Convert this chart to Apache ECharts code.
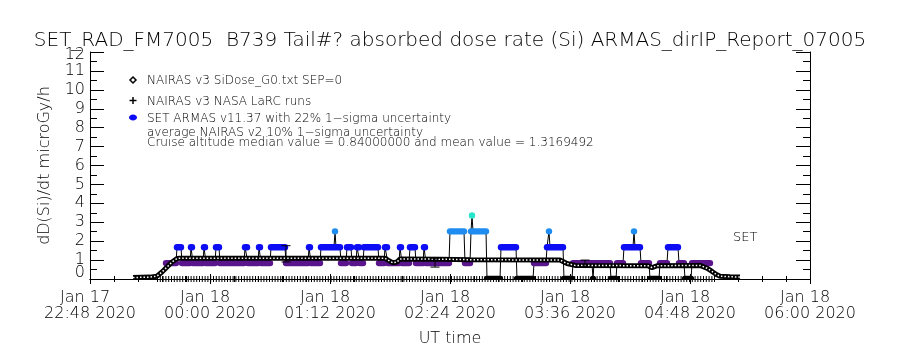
<!DOCTYPE html>
<html>
<head>
<meta charset="utf-8">
<script src="https://cdn.jsdelivr.net/npm/echarts@6/dist/echarts.min.js"></script>
<style>
  html, body { margin: 0; padding: 0; background: #ffffff; }
  #chart { width: 900px; height: 350px; }
</style>
</head>
<body>
<div id="chart"></div>
<script>
// Time is expressed in UT hours counted from 2020-01-17 00:00 (24.5 = Jan 18 00:30).
const X_MIN = 22.8, X_MAX = 30.0, X_STEP = 1.2;

// Bottom axis tick labels, one pair of lines per major tick
const xTickLabels = [
  ['Jan 17', '22:48 2020'],
  ['Jan 18', '00:00 2020'],
  ['Jan 18', '01:12 2020'],
  ['Jan 18', '02:24 2020'],
  ['Jan 18', '03:36 2020'],
  ['Jan 18', '04:48 2020'],
  ['Jan 18', '06:00 2020']
];
const yTickLabels = ['0', '1', '2', '3', '4', '5', '6', '7', '8', '9', '10', '11', '12'];

// NAIRAS v3 SiDose_G0 model profile: [UT hour, microGy/h]
const nairasProfile = [
  [23.23, 0.08], [23.40, 0.10], [23.47, 0.15], [23.52, 0.37], [23.57, 0.63],
  [23.62, 0.90], [23.67, 1.08], [23.70, 1.10], [25.75, 1.10], [25.78, 1.00],
  [25.83, 0.85], [25.87, 0.90], [25.90, 1.06], [26.30, 1.05], [26.60, 1.02],
  [27.50, 1.00], [27.52, 0.98], [27.57, 0.82], [27.65, 0.72], [28.38, 0.70],
  [28.42, 0.60], [28.47, 0.70], [28.90, 0.72], [28.97, 0.57], [29.02, 0.40],
  [29.06, 0.25], [29.10, 0.15], [29.20, 0.12], [29.30, 0.10]
];

// NAIRAS v3 NASA LaRC runs: span of the run samples, all at zero
const larcRuns = [[23.47, 0], [29.03, 0]];

// SET ARMAS dose rate, as runs of equal readings: [start UT hour, end UT hour, microGy/h]
const armasRuns = [
  [23.56, 23.66, 0.84], [23.67, 23.71, 1.68], [23.72, 23.80, 0.84], [23.81, 23.82, 1.68],
  [23.83, 23.93, 0.84], [23.94, 23.95, 1.68], [23.96, 24.05, 0.84], [24.06, 24.09, 1.68],
  [24.10, 24.34, 0.84], [24.35, 24.37, 1.68], [24.38, 24.48, 0.84], [24.49, 24.50, 1.68],
  [24.51, 24.60, 0.84], [24.61, 24.75, 1.68], [24.76, 24.98, 0.84], [24.99, 25.00, 1.68],
  [25.01, 25.10, 0.84], [25.11, 25.24, 1.68], [25.25, 25.25, 2.52], [25.26, 25.30, 1.68],
  [25.31, 25.36, 0.84], [25.37, 25.41, 1.68], [25.42, 25.46, 0.84], [25.47, 25.49, 1.68],
  [25.50, 25.53, 0.84], [25.54, 25.68, 1.68], [25.69, 25.74, 0.84], [25.75, 25.77, 1.68],
  [25.78, 25.89, 0.84], [25.90, 25.91, 1.68], [25.92, 25.99, 0.84], [26.00, 26.05, 1.68],
  [26.06, 26.13, 0.84], [26.14, 26.15, 1.68], [26.16, 26.39, 0.84], [26.40, 26.54, 2.52],
  [26.55, 26.60, 0.84], [26.61, 26.61, 2.52], [26.62, 26.62, 3.36], [26.63, 26.76, 2.52],
  [26.77, 26.90, 0.00], [26.91, 27.06, 1.68], [27.07, 27.23, 0.00], [27.24, 27.36, 0.84],
  [27.37, 27.38, 1.68], [27.39, 27.39, 2.52], [27.40, 27.53, 1.68], [27.54, 27.62, 0.00],
  [27.63, 27.82, 0.84], [27.83, 27.83, 0.00], [27.84, 28.00, 0.84], [28.01, 28.06, 0.00],
  [28.07, 28.13, 0.84], [28.14, 28.23, 1.68], [28.24, 28.24, 2.52], [28.25, 28.30, 1.68],
  [28.31, 28.39, 0.84], [28.40, 28.49, 0.00], [28.50, 28.57, 0.84], [28.58, 28.68, 1.68],
  [28.69, 28.74, 0.84], [28.75, 28.81, 0.00], [28.82, 29.00, 0.84]
];

// Uncertainty bars: [UT hour, low, high]
const errorBars = [
  [24.76, 0.90, 1.76],
  [26.25, 0.63, 1.10],
  [27.75, 0.65, 1.00]
];

// Colour table for the ARMAS readings
const armasLevels = [0.00, 0.84, 1.68, 2.52, 3.36];
const armasColors = ['#000000', '#5a148c', '#0c0cf5', '#1e8cf0', '#28e6cc'];
function armasColor(v) {
  let best = 0;
  armasLevels.forEach((lv, i) => {
    if (Math.abs(lv - v) < Math.abs(armasLevels[best] - v)) best = i;
  });
  return armasColors[best];
}

const FONT = 'DejaVu Sans';
const chart = echarts.init(document.getElementById('chart'), null, { renderer: 'canvas' });

// Sequence of run end points, joined by thin black lines
const armasPath = [];
armasRuns.forEach(r => { armasPath.push([r[0], r[2]]); armasPath.push([r[1], r[2]]); });

const axisLineStyle = { color: '#000', width: 1 };
const tickText = { fontFamily: FONT, fontWeight: 200, fontSize: 16, color: '#000' };
const Y_MIN = 0, Y_MAX = 12;

const option = {
  animation: false,
  backgroundColor: '#ffffff',
  title: {
    text: 'SET_RAD_FM7005  B739 Tail#? absorbed dose rate (Si) ARMAS_dirIP_Report_07005',
    left: 'center',
    top: 26,
    textStyle: { fontFamily: FONT, fontWeight: 200, fontSize: 20, color: '#000' }
  },
  grid: { left: 90, right: 90, top: 52, bottom: 71, containLabel: false, outerBoundsMode: 'none' },
  xAxis: [
    {
      type: 'value', min: X_MIN, max: X_MAX, interval: X_STEP, position: 'bottom',
      name: 'UT time', nameLocation: 'middle', nameGap: 52,
      nameTextStyle: tickText,
      axisLine: { show: true, lineStyle: axisLineStyle },
      axisTick: { show: true, inside: true, length: 5, lineStyle: axisLineStyle },
      minorTick: { show: true, splitNumber: 5, length: 3, lineStyle: axisLineStyle },
      splitLine: { show: false },
      axisLabel: {
        margin: 11,
        showMinLabel: true, showMaxLabel: true,
        formatter: v => {
          const pair = xTickLabels[Math.round((v - X_MIN) / X_STEP)];
          return pair ? '{d|' + pair[0] + '}\n{t|' + pair[1] + '}' : '';
        },
        rich: {
          d: Object.assign({ lineHeight: 16, padding: [0, 10, 0, 0] }, tickText),
          t: Object.assign({ lineHeight: 16 }, tickText)
        }
      }
    },
    {
      type: 'value', min: X_MIN, max: X_MAX, interval: X_STEP, position: 'top',
      axisLine: { show: true, lineStyle: axisLineStyle },
      axisTick: { show: true, inside: true, length: 5, lineStyle: axisLineStyle },
      minorTick: { show: true, splitNumber: 5, length: 3, lineStyle: axisLineStyle },
      axisLabel: { show: false },
      splitLine: { show: false }
    }
  ],
  yAxis: [
    {
      type: 'value', min: Y_MIN, max: Y_MAX, interval: 1, position: 'left',
      name: 'dD(Si)/dt microGy/h', nameLocation: 'middle', nameGap: 37,
      nameTextStyle: tickText,
      axisLine: { show: true, lineStyle: axisLineStyle },
      axisTick: { show: true, inside: true, length: 14, lineStyle: axisLineStyle },
      minorTick: { show: true, splitNumber: 2, length: 7, lineStyle: axisLineStyle },
      splitLine: { show: false },
      axisLabel: Object.assign({
        margin: 5,
        // the end labels are drawn nudged inside the frame, see below
        showMinLabel: false, showMaxLabel: false,
        formatter: v => yTickLabels[Math.round(v)] || ''
      }, tickText)
    },
    {
      type: 'value', min: Y_MIN, max: Y_MAX, interval: 1, position: 'right',
      axisLine: { show: true, lineStyle: axisLineStyle },
      axisTick: { show: true, inside: true, length: 14, lineStyle: axisLineStyle },
      minorTick: { show: true, splitNumber: 2, length: 7, lineStyle: axisLineStyle },
      axisLabel: { show: false },
      splitLine: { show: false }
    }
  ],
  series: [
    {
      name: 'NAIRAS v3 NASA LaRC runs',
      type: 'line', data: larcRuns, showSymbol: false, symbol: 'none', z: 2,
      lineStyle: { color: '#000', width: 6, type: [1, 1.8] }
    },
    {
      name: 'ARMAS path',
      type: 'line', data: armasPath, showSymbol: false, symbol: 'none', z: 3,
      lineStyle: { color: '#000', width: 1 }
    },
    {
      name: 'SET ARMAS v11.37',
      type: 'custom', data: armasRuns, z: 4, clip: true,
      renderItem: (params, api) => {
        const v = api.value(2);
        const s = api.coord([api.value(0), v]);
        const e = api.coord([api.value(1), v]);
        const r = 3.2;
        return {
          type: 'rect',
          shape: { x: s[0] - r, y: s[1] - r, width: e[0] - s[0] + 2 * r, height: 2 * r, r: r },
          style: { fill: armasColor(v) }
        };
      }
    },
    {
      name: 'NAIRAS v3 SiDose_G0.txt SEP=0',
      type: 'line', data: nairasProfile, showSymbol: false, symbol: 'none', z: 5,
      lineStyle: { color: '#000', width: 5 }
    },
    {
      name: 'NAIRAS diamond texture',
      type: 'line', data: nairasProfile, showSymbol: false, symbol: 'none', z: 6,
      lineStyle: { color: '#ffffff', width: 1.5, type: [1.5, 2] }
    },
    {
      name: 'uncertainty',
      type: 'custom', data: errorBars, z: 7, clip: true,
      renderItem: (params, api) => {
        const lo = api.coord([api.value(0), api.value(1)]);
        const hi = api.coord([api.value(0), api.value(2)]);
        const w = 4.5;
        const st = { stroke: '#000', lineWidth: 1 };
        return {
          type: 'group',
          children: [
            { type: 'line', shape: { x1: lo[0], y1: lo[1], x2: hi[0], y2: hi[1] }, style: st },
            { type: 'line', shape: { x1: hi[0] - w, y1: hi[1], x2: hi[0] + w, y2: hi[1] }, style: st },
            { type: 'line', shape: { x1: lo[0] - w, y1: lo[1], x2: lo[0] + w, y2: lo[1] }, style: st }
          ]
        };
      }
    }
  ],
  graphic: [
    // legend symbols
    { type: 'polygon', shape: { points: [[133, 77], [136, 80], [133, 83], [130, 80]] },
      style: { fill: '#ffffff', stroke: '#000', lineWidth: 1.5 } },
    { type: 'line', shape: { x1: 129.5, y1: 100.5, x2: 136.5, y2: 100.5 }, style: { stroke: '#000', lineWidth: 1.5 } },
    { type: 'line', shape: { x1: 133, y1: 97, x2: 133, y2: 104 }, style: { stroke: '#000', lineWidth: 1.5 } },
    { type: 'ellipse', shape: { cx: 133, cy: 117.5, rx: 4, ry: 3 }, style: { fill: '#0c0cf5' } },
    // legend texts
    { type: 'text', left: 147, top: 75, style: { text: 'NAIRAS v3 SiDose_G0.txt SEP=0', font: '200 12px "DejaVu Sans"', fill: '#000' } },
    { type: 'text', left: 147, top: 96, style: { text: 'NAIRAS v3 NASA LaRC runs', font: '200 12px "DejaVu Sans"', fill: '#000' } },
    { type: 'text', left: 147, top: 113, style: { text: 'SET ARMAS v11.37 with 22% 1\u2212sigma uncertainty', font: '200 12px "DejaVu Sans"', fill: '#000' } },
    { type: 'text', left: 147, top: 127, style: { text: 'average NAIRAS v2 10% 1\u2212sigma uncertainty', font: '200 12px "DejaVu Sans"', fill: '#000' } },
    { type: 'text', left: 147, top: 137, style: { text: 'Cruise altitude median value = 0.84000000 and mean value = 1.3169492', font: '200 12px "DejaVu Sans"', fill: '#000' } },
    { type: 'text', left: 733, top: 231, style: { text: 'SET', font: '200 13px "DejaVu Sans"', fill: '#000' } }
  ]
};

chart.setOption(option);

// End labels of the dose-rate axis, kept inside the frame height
const yLow = chart.convertToPixel({ yAxisIndex: 0 }, Y_MIN);
const yHigh = chart.convertToPixel({ yAxisIndex: 0 }, Y_MAX);
const yEndFont = '200 16px "DejaVu Sans"';
chart.setOption({
  graphic: option.graphic.concat([
    { type: 'text', x: 85, y: yLow - 6, style: { text: yTickLabels[Y_MIN], font: yEndFont, fill: '#000', align: 'right', verticalAlign: 'middle' } },
    { type: 'text', x: 85, y: yHigh + 3, style: { text: yTickLabels[Y_MAX], font: yEndFont, fill: '#000', align: 'right', verticalAlign: 'middle' } }
  ])
});
</script>
</body>
</html>
